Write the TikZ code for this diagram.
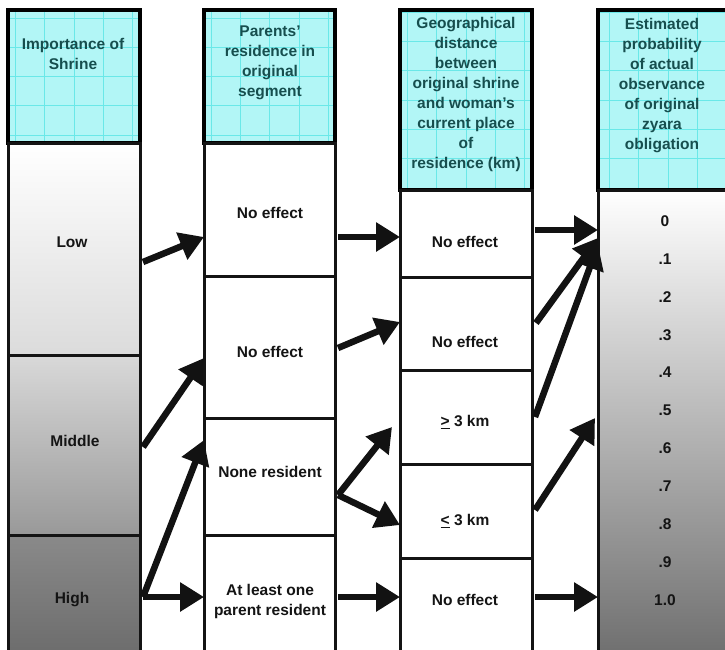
\documentclass[tikz,border=0pt]{standalone}
\usepackage{fontspec}
\setmainfont{Liberation Sans}[BoldFont={Liberation Sans Bold}]
\usetikzlibrary{arrows.meta,calc}

\definecolor{headfill}{HTML}{B2F6F6}
\definecolor{headgrid}{HTML}{6AE8E8}
\definecolor{headtext}{HTML}{164E4E}

\tikzset{
  headbox/.style={draw=black, line width=3.5pt, fill=headfill, anchor=north west, inner sep=0pt, outer sep=0pt,
    path picture={\draw[headgrid, line width=0.6pt, step=29.3pt] (path picture bounding box.north west) grid (path picture bounding box.south east);}},
  bodybox/.style={draw=black!92, line width=3pt, anchor=north west, inner sep=0pt, outer sep=0pt, fill=white},
  headlab/.style={font=\fontsize{15.5}{20}\selectfont\bfseries, text=headtext, align=center},
  boxlab/.style={font=\fontsize{15.5}{20}\selectfont\bfseries, text=black!92, align=center},
  flow/.style={line width=6.5pt, black!93, -{Triangle[length=24pt,width=28pt]}},
}

\begin{document}
\begin{tikzpicture}[x=1pt, y=-1pt]

\useasboundingbox (0,0) rectangle (725,650);
\begin{scope}
\clip (0,0) rectangle (725,650);

% -------- Headers -----------
\node[headbox, minimum width=132pt, minimum height=133pt] (h1) at (8,10) {};
\node[headbox, minimum width=131pt, minimum height=133pt] (h2) at (204,10) {};
\node[headbox, minimum width=132pt, minimum height=180pt] (h3) at (400,10) {};
\node[headbox, minimum width=140pt, minimum height=180pt] (h4) at (598,10) {};

\node[headlab] (t1) at (73,54) {Importance of\\Shrine};
\node[headlab] (t2) at (270,63) {Parents'\\residence in\\original\\segment};
\node[headlab] (t3) at (466,94) {Geographical\\distance\\between\\original shrine\\and woman's\\current place\\of\\residence (km)};
\node[headlab] (t4) at (662,86) {Estimated\\probability\\of actual\\observance\\of original\\zyara\\obligation};

% First column
\node[bodybox, shade, top color=white, bottom color=black!14, minimum width=132pt, minimum height=212pt] (low) at (8,143) {};
\node[bodybox, shade, top color=black!15, bottom color=black!40, minimum width=132pt, minimum height=180pt] (mid) at (8,355) {};
\node[bodybox, shade, top color=black!46, bottom color=black!58, minimum width=132pt, minimum height=125pt] (high) at (8,535) {};
\node[boxlab] (lowlab) at (72,242) {Low};
\node[boxlab] (midlab) at (75,441) {Middle};
\node[boxlab] (highlab) at (72,600) {High};

% Second column
\node[bodybox, minimum width=131pt, minimum height=133pt] (p1) at (204,143) {};
\node[bodybox, minimum width=131pt, minimum height=142pt] (p2) at (204,276) {};
\node[bodybox, minimum width=131pt, minimum height=117pt] (p3) at (204,418) {};
\node[bodybox, minimum width=131pt, minimum height=125pt] (p4) at (204,535) {};
\node[boxlab] (p1lab) at (270,213) {No effect};
\node[boxlab] (p2lab) at (270,352) {No effect};
\node[boxlab] (p3lab) at (270,472) {None resident};
\node[boxlab] (p4lab) at (270,601) {At least one\\parent resident};

% Third column
\node[bodybox, minimum width=132pt, minimum height=87pt] (d1) at (400,190) {};
\node[bodybox, minimum width=132pt, minimum height=93pt] (d2) at (400,277) {};
\node[bodybox, minimum width=132pt, minimum height=94pt] (d3) at (400,370) {};
\node[bodybox, minimum width=132pt, minimum height=94pt] (d4) at (400,464) {};
\node[bodybox, minimum width=132pt, minimum height=102pt] (d5) at (400,558) {};
\node[boxlab] (d1lab) at (465,242) {No effect};
\node[boxlab] (d2lab) at (465,342) {No effect};
\node[boxlab] (d3lab) at (465,422) {\underline{>}~3 km};
\node[boxlab] (d4lab) at (465,521) {\underline{<}~3 km};
\node[boxlab] (d5lab) at (465,600) {No effect};

% Fourth column
\node[bodybox, shade, top color=white, bottom color=black!57, minimum width=140pt, minimum height=470pt] (prob) at (598,190) {};
\foreach \v [count=\i from 0] in {0,.1,.2,.3,.4,.5,.6,.7,.8,.9,1.0}
  \node[boxlab] (n\i) at (665,{221+37.9*\i}) {\v};

% -------- Arrows -----------
\draw[flow] ($(low.north east)+(3,119)$) -- ($(p1.north west)+(0,94)$);
\draw[flow] ($(mid.north east)+(3,92)$) -- ($(p2.north west)+(0,82)$);
\draw[flow] ($(high.north east)+(3,62)$) -- ($(p3.north west)+(0,22)$);
\draw[flow] ($(high.north east)+(3,62)$) -- ($(p4.north west)+(0,62)$);

\draw[flow] ($(p1.north east)+(3,94)$) -- ($(d1.north west)+(0,47)$);
\draw[flow] ($(p2.north east)+(3,72)$) -- ($(d2.north west)+(0,45)$);
\draw[flow] ($(p3.north east)+(3,77)$) -- ($(d3.north west)+(-8,57)$);
\draw[flow] ($(p3.north east)+(3,77)$) -- ($(d4.north west)+(0,61)$);
\draw[flow] ($(p4.north east)+(3,62)$) -- ($(d5.north west)+(0,39)$);

\draw[flow] ($(d1.north east)+(3,40)$) -- ($(prob.north west)+(0,40)$);
\draw[flow] ($(d2.north east)+(4,46)$) -- ($(prob.north west)+(0,48)$);
\draw[flow] ($(d3.north east)+(3,47)$) -- ($(prob.north west)+(0,55)$);
\draw[flow] ($(d4.north east)+(3,46)$) -- ($(prob.north west)+(-3,228)$);
\draw[flow] ($(d5.north east)+(3,39)$) -- ($(prob.north west)+(0,407)$);

\end{scope}
\end{tikzpicture}
\end{document}
